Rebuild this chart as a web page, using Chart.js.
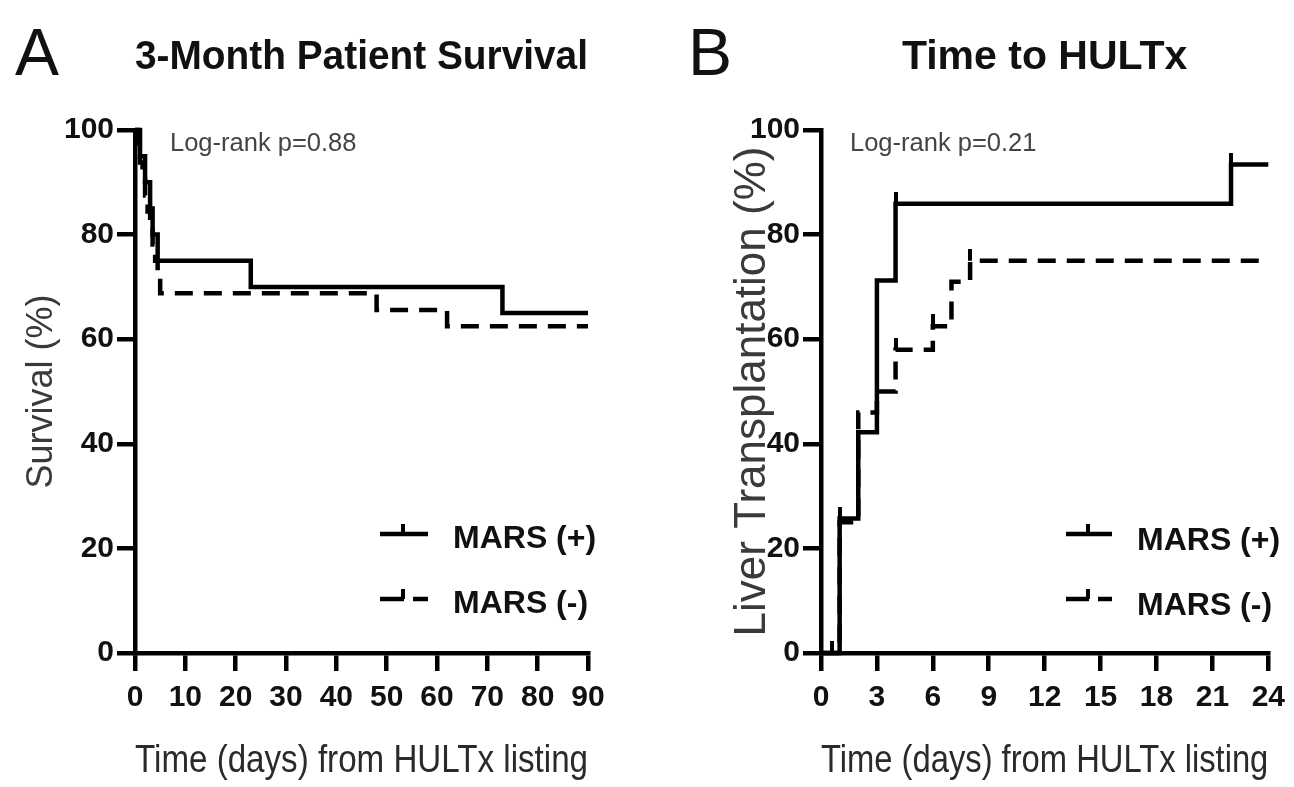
<!DOCTYPE html>
<html>
<head>
<meta charset="utf-8">
<script src="https://cdn.jsdelivr.net/npm/chart.js@4.4.1/dist/chart.umd.min.js"></script>
<style>
  html, body { margin: 0; padding: 0; background: #fff; }
  #wrap { position: relative; width: 1294px; height: 787px; overflow: hidden; background: #fff; }
  canvas { position: absolute; top: 0; }
  .t { position: absolute; white-space: nowrap; line-height: 1; font-family: 'Liberation Sans', Arial, sans-serif; }
  .panel { font-size: 66px; color: #111; }
  .logrank { font-size: 25.5px; color: #444; }
  .leg { font-size: 32px; font-weight: bold; color: #111; }
  svg { position: absolute; }
</style>
</head>
<body>
<div id="wrap">
  <canvas id="cA" width="640" height="787" style="left:0px;width:640px;height:787px"></canvas>
  <canvas id="cB" width="654" height="787" style="left:640px;width:654px;height:787px"></canvas>

  <div class="t panel" style="left:15px;top:19px">A</div>
  <div class="t panel" style="left:688px;top:19px">B</div>

  <div class="t logrank" style="left:170px;top:130px">Log-rank p=0.88</div>
  <div class="t logrank" style="left:850px;top:130px">Log-rank p=0.21</div>

  <svg style="left:380px;top:515px" width="50" height="100">
    <line x1="0" y1="19" x2="48" y2="19" stroke="#000" stroke-width="4.5"/>
    <line x1="23" y1="9" x2="23" y2="19" stroke="#000" stroke-width="4"/>
    <line x1="0" y1="84" x2="24" y2="84" stroke="#000" stroke-width="4.5"/>
    <line x1="23" y1="74" x2="23" y2="84" stroke="#000" stroke-width="4"/>
    <line x1="33" y1="84" x2="48" y2="84" stroke="#000" stroke-width="4.5"/>
  </svg>
  <div class="t leg" style="left:453px;top:521px">MARS (+)</div>
  <div class="t leg" style="left:453px;top:586px">MARS (-)</div>

  <svg style="left:1066px;top:515px" width="50" height="100">
    <line x1="0" y1="19" x2="46" y2="19" stroke="#000" stroke-width="4.5"/>
    <line x1="22" y1="9" x2="22" y2="19" stroke="#000" stroke-width="4"/>
    <line x1="0" y1="84" x2="23" y2="84" stroke="#000" stroke-width="4.5"/>
    <line x1="22" y1="74" x2="22" y2="84" stroke="#000" stroke-width="4"/>
    <line x1="32" y1="84" x2="46" y2="84" stroke="#000" stroke-width="4.5"/>
  </svg>
  <div class="t leg" style="left:1137px;top:523px">MARS (+)</div>
  <div class="t leg" style="left:1137px;top:588px">MARS (-)</div>
</div>

<script>
// ---------- Panel A: 3-Month Patient Survival ----------
const survPlusDays   = [0, 1, 2, 3, 3.5, 4.5, 23, 73, 90];
const survPlusPct    = [100, 95, 90, 85, 80, 75, 70, 65, 65];
const survMinusDays  = [0, 0.5, 1, 1.5, 2, 2.5, 3, 3.5, 4, 4.5, 5, 48, 62, 90];
const survMinusPct   = [100, 96.9, 93.8, 90.6, 87.5, 84.4, 81.3, 78.1, 75, 71.9, 68.8, 65.6, 62.5, 62.5];
const survXTicks     = [0, 10, 20, 30, 40, 50, 60, 70, 80, 90];

// ---------- Panel B: Time to HULTx ----------
const txPlusDays     = [0, 1, 2, 3, 4, 22, 24];
const txPlusPct      = [0, 25.7, 42.2, 71.2, 85.9, 93.4, 93.4];
const txMinusDays    = [0, 1, 2, 3, 4, 6, 7, 8, 24];
const txMinusPct     = [0, 25, 46, 50, 58, 62.5, 71, 75, 75];
const txPlusCensDays = [1, 4, 22];
const txPlusCensPct  = [25.7, 85.9, 93.4];
const txMinusCensDays= [0.6, 4, 6, 8];
const txMinusCensPct = [0, 58, 62.5, 75];
const txXTicks       = [0, 3, 6, 9, 12, 15, 18, 21, 24];

const yTicks         = [0, 20, 40, 60, 80, 100];
const seriesNames    = ['MARS (+)', 'MARS (-)'];

const FONT = "'Liberation Sans', Arial, sans-serif";

function pts(xs, ys) { return xs.map((x, i) => ({ x: x, y: ys[i] })); }

// upward censor tick as a point style (image centered on the point, only top half inked)
function censorTick() {
  const c = document.createElement('canvas');
  c.width = 4; c.height = 24;
  const g = c.getContext('2d');
  g.fillStyle = '#000';
  g.fillRect(0, 0, 4, 12);
  return c;
}
const tickImg = censorTick();

function makeChart(id, cfg) {
  const commonScale = () => ({
    type: 'linear',
    grid: { display: true, drawOnChartArea: false, drawTicks: true, tickLength: 18, lineWidth: 4.5, color: '#000' },
    border: { display: true, width: 4.5, color: '#000' },
  });
  const xScale = Object.assign(commonScale(), {
    min: 0, max: cfg.xMax,
    afterBuildTicks: (s) => { s.ticks = cfg.xTicks.map(v => ({ value: v })); },
    ticks: { color: '#111', padding: 9, maxRotation: 0, autoSkip: false,
             font: { family: FONT, size: 30, weight: 'bold' } },
    title: { display: true, text: 'Time (days) from HULTx listing', color: '#2a2a2a',
             font: { family: FONT, size: 38, weight: 'normal' }, padding: { top: 0, bottom: 3 } },
    afterFit: (s) => { s.height = 787 - 653; }
  });
  const yScale = Object.assign(commonScale(), {
    min: 0, max: 100,
    afterBuildTicks: (s) => { s.ticks = yTicks.map(v => ({ value: v })); },
    ticks: { color: '#111', padding: 3, autoSkip: false,
             font: { family: FONT, size: 30, weight: 'bold' } },
    title: { display: true, text: cfg.yTitle, color: '#3a3a3a',
             font: { family: FONT, size: cfg.yTitleSize, weight: 'normal' }, padding: { top: cfg.yTitlePad, bottom: 0 } },
    afterFit: (s) => { s.width = cfg.left; }
  });

  const lineDs = (label, data, dash) => ({
    label: label, data: data, showLine: true, stepped: 'before',
    borderColor: '#000', backgroundColor: '#000', borderWidth: 4.5,
    borderDash: dash, borderCapStyle: 'butt', pointRadius: 0, fill: false, clip: 8
  });
  const censDs = (label, data) => ({
    label: label, data: data, showLine: false, pointStyle: tickImg,
    pointRadius: 6, borderColor: '#000', backgroundColor: '#000', clip: 12
  });

  const datasets = [
    lineDs(seriesNames[1], cfg.minus, [18, 11]),
    lineDs(seriesNames[0], cfg.plus, []),
  ];
  if (cfg.plusCens) datasets.push(censDs(seriesNames[0] + ' censored', cfg.plusCens));
  if (cfg.minusCens) datasets.push(censDs(seriesNames[1] + ' censored', cfg.minusCens));

  const titleSize = 41;
  return new Chart(document.getElementById(id), {
    type: 'scatter',
    data: { datasets: datasets },
    options: {
      responsive: false, animation: false, devicePixelRatio: 1,
      layout: { padding: { left: 0, right: cfg.right, top: 0, bottom: 0 } },
      plugins: {
        legend: { display: false },
        tooltip: { enabled: false },
        title: { display: true, text: cfg.title, fullSize: false, align: 'center', color: '#111',
                 font: { family: FONT, size: titleSize, weight: 'bold' },
                 padding: { top: 33, bottom: 130 - 33 - titleSize * 1.2 } }
      },
      scales: { x: xScale, y: yScale }
    }
  });
}

makeChart('cA', {
  title: '3-Month Patient Survival', yTitle: 'Survival (%)', yTitleSize: 36, yTitlePad: 20,
  left: 135, right: 640 - 588, xMax: 90, xTicks: survXTicks,
  plus: pts(survPlusDays, survPlusPct), minus: pts(survMinusDays, survMinusPct)
});
makeChart('cB', {
  title: 'Time to HULTx', yTitle: 'Liver Transplantation (%)', yTitleSize: 44, yTitlePad: 86,
  left: 181, right: 654 - 633, xMax: 24, xTicks: txXTicks,
  plus: pts(txPlusDays, txPlusPct), minus: pts(txMinusDays, txMinusPct),
  plusCens: pts(txPlusCensDays, txPlusCensPct), minusCens: pts(txMinusCensDays, txMinusCensPct)
});
</script>
</body>
</html>
